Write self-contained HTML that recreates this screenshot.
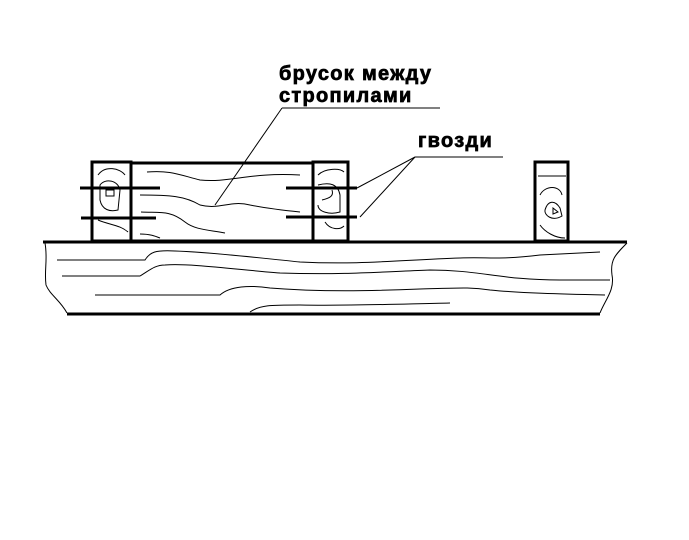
<!DOCTYPE html>
<html><head><meta charset="utf-8"><style>
body{margin:0;background:#fff}
svg{display:block}
text{font-family:"Liberation Sans",sans-serif;font-weight:bold;font-size:20px;fill:#000;stroke:#000;stroke-width:0.7;letter-spacing:1.3px}
</style></head><body>
<svg width="689" height="540" viewBox="0 0 689 540">
<rect width="689" height="540" fill="#fff"/>
<text x="279" y="80">брусок между</text>
<text x="279" y="102">стропилами</text>
<line x1="282" y1="108" x2="440" y2="108" stroke="#000" stroke-width="1"/>
<line x1="282" y1="108" x2="215" y2="205" stroke="#000" stroke-width="1"/>
<text x="418" y="147">гвозди</text>
<line x1="415" y1="157" x2="503" y2="157" stroke="#000" stroke-width="1"/>
<line x1="415" y1="157" x2="357" y2="188" stroke="#000" stroke-width="1"/>
<line x1="415" y1="157" x2="360" y2="217" stroke="#000" stroke-width="1"/>
<g fill="none" stroke="#000">
<rect x="131" y="163" width="182" height="78" stroke-width="3"/>
<path d="M147 172 C170 170 180 175 200 180 C230 183 250 172 300 175" stroke-width="1"/>
<path d="M140 195 C170 195 185 196 200 205 C220 210 230 200 250 205 C265 208 280 210 300 212" stroke-width="1"/>
<path d="M141 212 C160 213 170 210 185 222 C195 230 210 230 225 233" stroke-width="1"/>
<path d="M140 234 C150 234 155 236 160 238" stroke-width="1"/>
<rect x="92" y="162" width="39" height="79" stroke-width="3"/>
<rect x="313" y="162" width="35" height="79" stroke-width="3"/>
<rect x="535" y="162" width="33" height="79" stroke-width="3"/>
<path d="M98 175 C105 165 120 168 125 175 M100 185 C105 178 118 180 120 190 L118 210 C110 212 102 210 100 200 Z M106 190 L114 190 L114 196 L106 196 Z M98 220 C110 225 120 225 128 232" stroke-width="1"/>
<path d="M318 175 C325 168 340 168 344 172 M318 185 C330 182 338 184 340 195 L340 212 C330 215 318 212 318 205 M322 200 C330 198 334 196 332 190 M325 222 C330 230 340 230 344 226" stroke-width="1"/>
<path d="M538 176 L566 176 M540 195 C545 185 560 185 562 195 M545 210 C548 200 555 200 560 208 L562 216 C552 222 544 215 545 210 M553 208 L558 212 L553 214 Z M540 225 C545 232 555 238 565 238" stroke-width="1"/>
<line x1="80" y1="188" x2="160" y2="188" stroke-width="3"/>
<line x1="81" y1="218" x2="156" y2="218" stroke-width="3"/>
<line x1="286" y1="188" x2="357" y2="188" stroke-width="3"/>
<line x1="286" y1="217" x2="357" y2="217" stroke-width="3"/>
<line x1="43" y1="242" x2="627" y2="242" stroke-width="3"/>
<line x1="67" y1="314" x2="600" y2="314" stroke-width="3"/>
<path d="M45 243 C48 260 44 270 46 285 C50 295 60 300 67 313" stroke-width="1"/>
<path d="M627 243 C615 255 610 260 612 275 C615 290 605 300 600 313" stroke-width="1"/>
<path d="M57 260 L145 260 C150 252 155 250 175 251 C210 252 260 258 300 262 C360 265 400 260 460 258 C490 257 500 260 540 255 L600 252" stroke-width="1"/>
<path d="M62 276 L140 276 C150 270 155 265 165 265 C190 263 240 270 280 273 C340 275 380 272 430 270 C480 270 500 280 560 280 L610 280" stroke-width="1"/>
<path d="M95 295 L220 295 C230 286 250 285 270 288 C320 292 370 291 420 289 C460 288 470 287 490 290 C520 293 560 294 605 295" stroke-width="1"/>
<path d="M250 312 C260 305 270 305 300 305 C350 306 400 304 450 303" stroke-width="1"/>
</g>
</svg>
</body></html>
